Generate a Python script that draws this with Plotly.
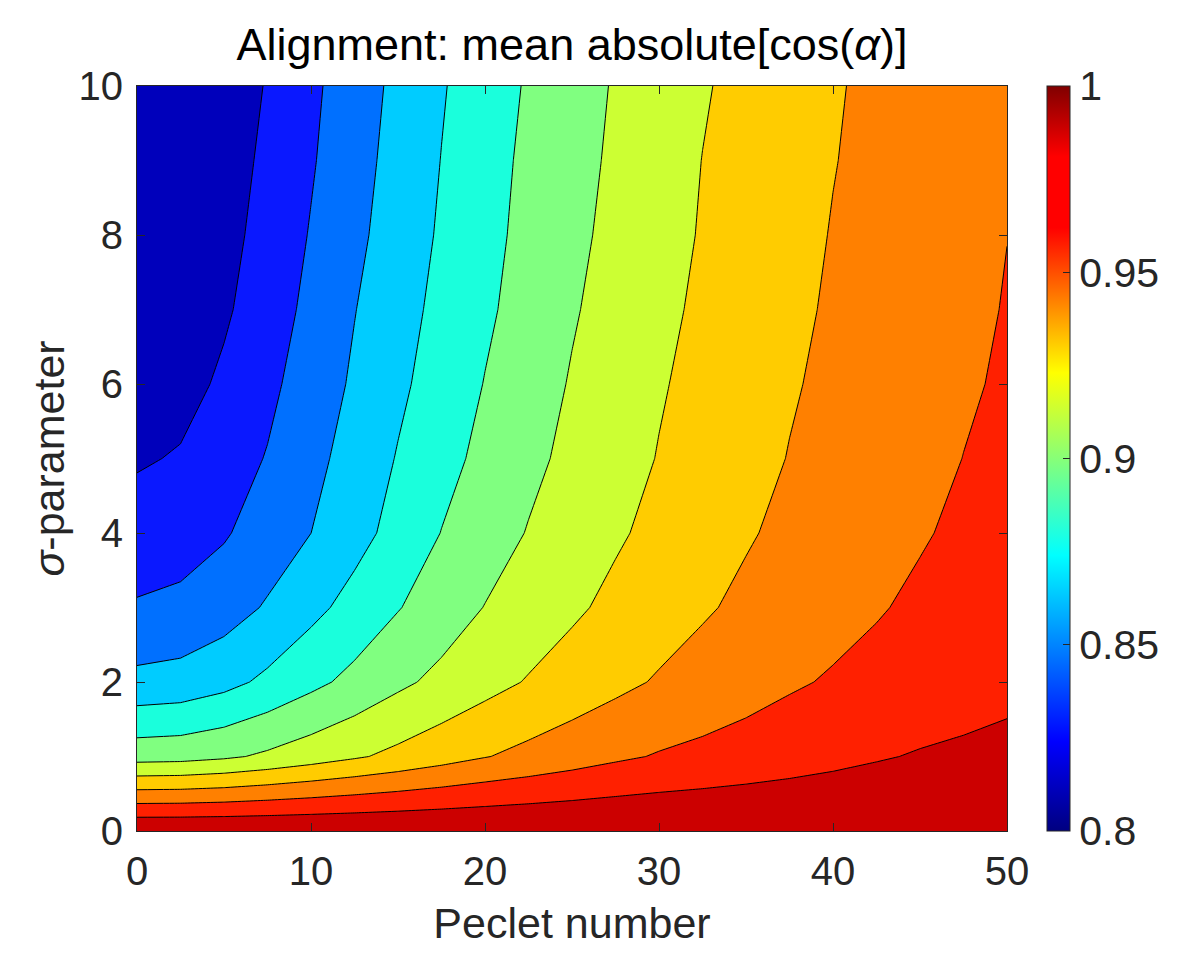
import plotly.graph_objects as go

# grid of the run: Peclet number (x) and sigma-parameter (y)
peclet = [0, 2.5, 5, 7.5, 10, 12.5, 15, 17.5, 20, 22.5, 25, 27.5, 30, 32.5, 35, 37.5, 40, 42.5, 45, 47.5, 50]
sigma = [0, 1, 2, 3, 4, 5, 6, 7, 8, 9, 10]

# mean |cos(alpha)| for each sigma row
align_s0 = [1.0, 1.0, 1.0, 1.0, 1.0, 1.0, 1.0, 1.0, 1.0, 1.0, 1.0, 1.0, 1.0, 1.0, 1.0, 1.0, 1.0, 1.0, 1.0, 1.0, 1.0]
align_s1 = [0.9015, 0.9025, 0.9062, 0.9120, 0.9185, 0.9251, 0.9316, 0.9382, 0.9447, 0.9502, 0.9555, 0.9607, 0.9649, 0.9680, 0.9711, 0.9742, 0.9773, 0.9804, 0.9831, 0.9851, 0.9873]
align_s2 = [0.8593, 0.8613, 0.8673, 0.8765, 0.8864, 0.8958, 0.9055, 0.9136, 0.9213, 0.9285, 0.9349, 0.9411, 0.9471, 0.9518, 0.9567, 0.9615, 0.9653, 0.9680, 0.9709, 0.9736, 0.9765]
align_s3 = [0.8378, 0.8402, 0.8464, 0.8564, 0.8678, 0.8789, 0.8900, 0.9000, 0.9096, 0.9171, 0.9245, 0.9313, 0.9375, 0.9436, 0.9487, 0.9533, 0.9580, 0.9625, 0.9662, 0.9695, 0.9727]
align_s4 = [0.8273, 0.8291, 0.8347, 0.8444, 0.8545, 0.8665, 0.8787, 0.8913, 0.9007, 0.9100, 0.9176, 0.9251, 0.9316, 0.9378, 0.9440, 0.9489, 0.9533, 0.9578, 0.9624, 0.9662, 0.9700]
align_s5 = [0.8160, 0.8198, 0.8285, 0.8373, 0.8493, 0.8615, 0.8738, 0.8851, 0.8955, 0.9049, 0.9133, 0.9207, 0.9280, 0.9340, 0.9402, 0.9460, 0.9504, 0.9549, 0.9593, 0.9638, 0.9669]
align_s6 = [0.8082, 0.8116, 0.8213, 0.8324, 0.8444, 0.8571, 0.8693, 0.8805, 0.8915, 0.9011, 0.9104, 0.9180, 0.9258, 0.9320, 0.9380, 0.9440, 0.9487, 0.9531, 0.9575, 0.9618, 0.9655]
align_s7 = [0.8045, 0.8073, 0.8156, 0.8278, 0.8407, 0.8540, 0.8660, 0.8775, 0.8880, 0.8978, 0.9075, 0.9156, 0.9233, 0.9302, 0.9362, 0.9422, 0.9473, 0.9516, 0.9560, 0.9602, 0.9644]
align_s8 = [0.8022, 0.8047, 0.8124, 0.8245, 0.8375, 0.8504, 0.8629, 0.8749, 0.8858, 0.8958, 0.9051, 0.9135, 0.9211, 0.9285, 0.9344, 0.9404, 0.9462, 0.9505, 0.9547, 0.9591, 0.9635]
align_s9 = [0.8009, 0.8033, 0.8102, 0.8218, 0.8347, 0.8480, 0.8607, 0.8731, 0.8842, 0.8945, 0.9035, 0.9118, 0.9196, 0.9275, 0.9333, 0.9391, 0.9449, 0.9495, 0.9538, 0.9580, 0.9624]
align_s10 = [0.8000, 0.8022, 0.8085, 0.8193, 0.8327, 0.8460, 0.8587, 0.8713, 0.8822, 0.8927, 0.9018, 0.9105, 0.9182, 0.9258, 0.9320, 0.9380, 0.9440, 0.9487, 0.9531, 0.9575, 0.9618]

z = [align_s0, align_s1, align_s2, align_s3, align_s4, align_s5,
     align_s6, align_s7, align_s8, align_s9, align_s10]

cbar_ticks = [0.8, 0.85, 0.9, 0.95, 1.0]
cbar_labels = ['0.8', '0.85', '0.9', '0.95', '1']

# 10 levels -> 11 filled bands (jet like)
zmin, zmax = 0.8, 1.0
step = (zmax - zmin) / 11
band_colors = ['#0000BB', '#0A18FF', '#0070FF', '#00CCFF', '#1AFFDC', '#80FF80',
               '#CCFF33', '#FFCC00', '#FF8000', '#FF2000', '#CC0000']
band_scale = [[i / 10, c] for i, c in enumerate(band_colors)]

cbar_scale = [[0, '#000080'], [0.12, '#0000FF'], [0.37, '#00FFFF'], [0.615, '#FFFF00'],
              [0.81, '#FF0000'], [0.905, '#FF0000'], [1, '#800000']]

font = 'Liberation Sans, Arial, Helvetica, sans-serif'
axcol = '#262626'

fig = go.Figure()
fig.add_trace(go.Contour(
    x=peclet, y=sigma, z=z,
    autocontour=False,
    contours=dict(start=zmin + step, end=zmin + 10 * step, size=step, coloring='fill'),
    colorscale=band_scale,
    line=dict(color='black', width=1, smoothing=0),
    showscale=False,
    hoverinfo='skip'
))

# continuous colour bar like the matlab one
fig.add_trace(go.Scatter(
    x=[None], y=[None], mode='markers', showlegend=False, hoverinfo='skip',
    marker=dict(color=[zmin], cmin=zmin, cmax=zmax, colorscale=cbar_scale, showscale=True,
                colorbar=dict(x=1.046, xanchor='left', y=0.5, yanchor='middle',
                              len=1.0, lenmode='fraction', thickness=23, ypad=0, xpad=0,
                              outlinewidth=1, outlinecolor=axcol,
                              ticks='inside', ticklen=7, tickcolor=axcol,
                              tickvals=cbar_ticks, ticktext=cbar_labels,
                              tickfont=dict(family=font, size=41, color=axcol)))
))

axis_common = dict(
    showgrid=False, zeroline=False, showline=True, linecolor=axcol, linewidth=1,
    mirror='ticks', ticks='inside', ticklen=8, tickcolor=axcol,
    tickfont=dict(family=font, size=40, color=axcol), ticklabelstandoff=5,
)

# page body adds 8px, so margins are shifted to keep the axes box in place
fig.update_layout(
    width=1200, height=975,
    paper_bgcolor='white', plot_bgcolor='white',
    margin=dict(l=129, r=201, t=78, b=152),
    title=dict(text='Alignment: mean absolute[cos(<i>α</i>)]', x=0.5, xref='paper',
               y=1 - 36 / 975, yanchor='middle',
               font=dict(family=font, size=45, color='black')),
    xaxis=dict(range=[0, 50], tickvals=[0, 10, 20, 30, 40, 50],
               title=dict(text='Peclet number', font=dict(family=font, size=43, color=axcol)),
               **axis_common),
    yaxis=dict(range=[0, 10], tickvals=[0, 2, 4, 6, 8, 10],
               title=dict(text='<i>σ</i>-parameter', standoff=0,
                          font=dict(family=font, size=43, color=axcol)),
               **axis_common),
)

fig.write_html('out.html', config={'displayModeBar': False})
